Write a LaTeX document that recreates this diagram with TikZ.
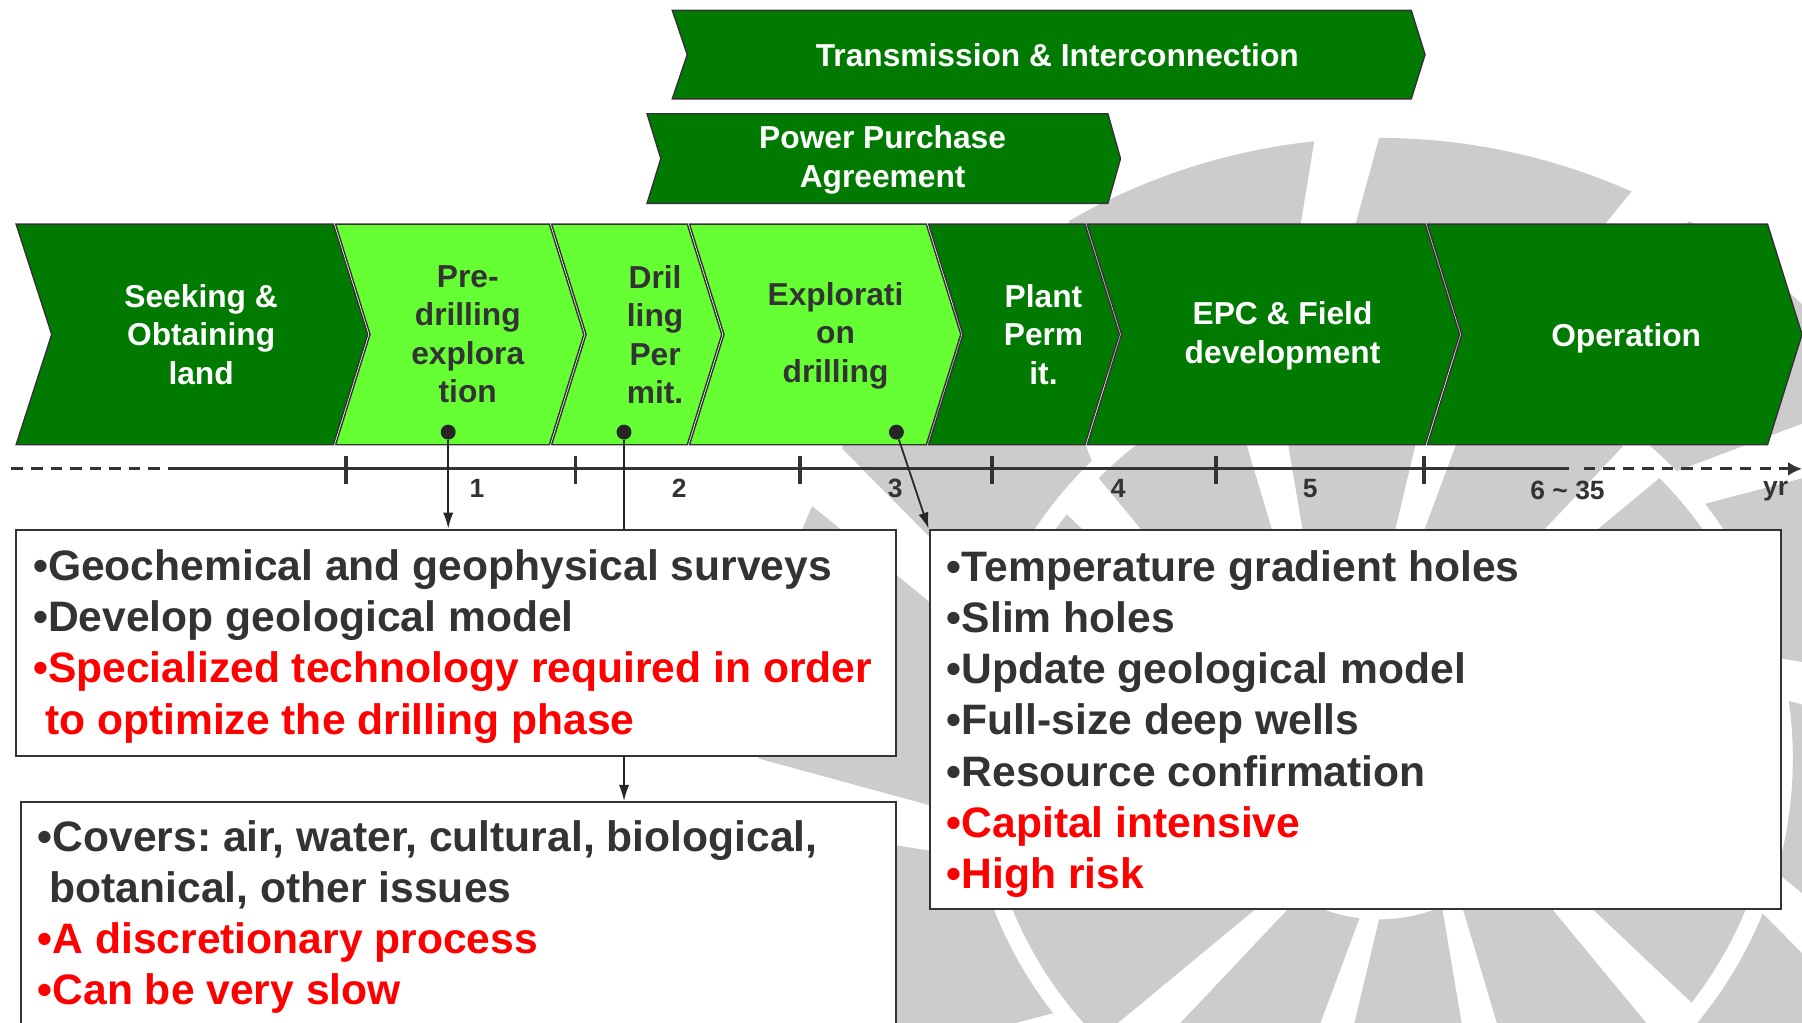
\documentclass[tikz,border=0pt]{standalone}
\usepackage{fontspec}
\setmainfont{Liberation Sans}
\usetikzlibrary{arrows.meta,positioning}

\definecolor{darkgreen}{HTML}{007A00}
\definecolor{lightgreen}{HTML}{66FF33}
\definecolor{ink}{HTML}{333333}
\definecolor{alert}{HTML}{FF0000}
\definecolor{logogrey}{HTML}{CCCCCC}

\begin{document}
\begin{tikzpicture}
[x=1pt,y=-1pt,
phase/.style={draw=ink,line width=1.2pt,line join=miter},
dark phase/.style={phase,fill=darkgreen},
light phase/.style={phase,fill=lightgreen},
label dark/.style={text=white,align=center,inner sep=0pt,
font=\bfseries\fontsize{27.6}{33.5}\selectfont},
label light/.style={label dark,text=ink},
tick/.style={ink,line width=3pt},
axis/.style={ink,line width=2.5pt},
year/.style={text=ink,inner sep=0pt,font=\bfseries\fontsize{23}{27}\selectfont},
dot/.style={circle,fill=black!85,inner sep=0pt,minimum size=13pt},
link/.style={black!85,line width=1.5pt},
post/.style={link,-{Latex[length=14pt,width=9pt]}},
note/.style={draw=ink,line width=1.8pt,fill=white,anchor=north west,
inner ysep=0pt,align=flush left,text=ink,
font={\bfseries\fontsize{37.07}{44.5}\selectfont\frenchspacing\hyphenpenalty 10000\relax}}]

\useasboundingbox (0,0) rectangle (1568,890);

% logo in the background
\begin{scope}[shift={(1200,660)}]
\foreach \a in {0,30,...,330}
\fill[logogrey] (\a:540) arc[start angle=\a,end angle=\a+24,radius=540]
-- (\a+16:360) arc[start angle=\a+16,end angle=\a-8,radius=360] -- cycle;
\foreach \a in {15,45,...,345}
\fill[logogrey] (\a:345) arc[start angle=\a,end angle=\a+23,radius=345]
-- (\a+15:140) arc[start angle=\a+15,end angle=\a-8,radius=140] -- cycle;
\end{scope}

% parallel tracks
\draw[dark phase] (585,9) -- (1228,9) -- (1240,47.5) -- (1228,86) -- (585,86) -- (598,47.5) -- cycle;
\node[label dark] (trans) at (920,48) {Transmission \& Interconnection};
\draw[dark phase] (563,99) -- (964,99) -- (975,138) -- (964,177) -- (563,177) -- (575,138) -- cycle;
\node[label dark] (ppa) at (768,139) {Power Purchase\\Agreement};

% main phases
\draw[dark phase] (14,195) -- (290,195) -- (320,291) -- (290,387) -- (14,387) -- (45,291) -- cycle;
\node[label dark] (seek) at (175,291) {Seeking \&\\Obtaining\\land};
\draw[light phase] (292,195) -- (478,195) -- (508,291) -- (478,387) -- (292,387) -- (322,291) -- cycle;
\node[label light] (pre) at (407,291) {Pre-\\drilling\\explora\\tion};
\draw[light phase] (480,195) -- (598,195) -- (628,291) -- (598,387) -- (480,387) -- (510,291) -- cycle;
\node[label light] (permit) at (570,291) {Dril\\ling\\Per\\mit.};
\draw[light phase] (600,195) -- (806,195) -- (836,291) -- (806,387) -- (600,387) -- (630,291) -- cycle;
\node[label light] (expl) at (727,292) {Explorati\\on\\drilling};
\draw[dark phase] (808,195) -- (944,195) -- (974,291) -- (944,387) -- (808,387) -- (838,291) -- cycle;
\node[label dark] (plant) at (908,291) {Plant\\Perm\\it.};
\draw[dark phase] (946,195) -- (1240,195) -- (1270,291) -- (1240,387) -- (946,387) -- (976,291) -- cycle;
\node[label dark] (epc) at (1116,292) {EPC \& Field\\development};
\draw[dark phase] (1242,195) -- (1538,195) -- (1568,291) -- (1538,387) -- (1242,387) -- (1272,291) -- cycle;
\node[label dark] (oper) at (1415,294) {Operation};

% time axis
\draw[axis,dash pattern=on 10pt off 7pt] (10,408) -- (150,408);
\draw[axis] (150,408) -- (1365,408);
\draw[axis,dash pattern=on 10pt off 7pt,-{Latex[length=12pt,width=12pt]}] (1378,408) -- (1568,408);
\foreach \t in {301,501,696,863,1058,1239}
\draw[tick] (\t,397) -- (\t,421);
\node[year] (y1) at (415,425) {1};
\node[year] (y2) at (591,425) {2};
\node[year] (y3) at (779,425) {3};
\node[year] (y4) at (973,425) {4};
\node[year] (y5) at (1140,425) {5};
\node[year] (y6) at (1364,427) {6 \textasciitilde{} 35};
\node[year] (yr) at (1545,427) {yr};

\node[dot] (d1) at (390,376) {};
\node[dot] (d2) at (543,376) {};
\node[dot] (d3) at (780,376) {};

% detail boxes
\node[note,minimum height=200pt,inner xsep=15pt,text width=732pt] (review) at (17,697)
{•Covers: air, water, cultural, biological,\\
\hspace*{0.28em}botanical, other issues\\
\textcolor{alert}{•A discretionary process}\\
\textcolor{alert}{•Can be very slow}};
\draw[post] (d2) -- (d2 |- review.north);

\node[note,minimum height=197pt,inner xsep=15pt,text width=736pt] (survey) at (13,460)
{\rule{0pt}{33pt}•Geochemical and geophysical surveys\\
•Develop geological model\\
\textcolor{alert}{•Specialized technology required in order}\\
\textcolor{alert}{\hspace*{0.28em}to optimize the drilling phase}};
\node[note,minimum height=330pt,inner xsep=15pt,text width=711pt] (wells) at (808,460)
{\rule{0pt}{35pt}•Temperature gradient holes\\
•Slim holes\\
•Update geological model\\
•Full-size deep wells\\
•Resource confirmation\\
\textcolor{alert}{•Capital intensive}\\
\textcolor{alert}{•High risk}};

\draw[post] (d1) -- (d1 |- survey.north);
\draw[post] (d3) -- (wells.north west);
\end{tikzpicture}
\end{document}
